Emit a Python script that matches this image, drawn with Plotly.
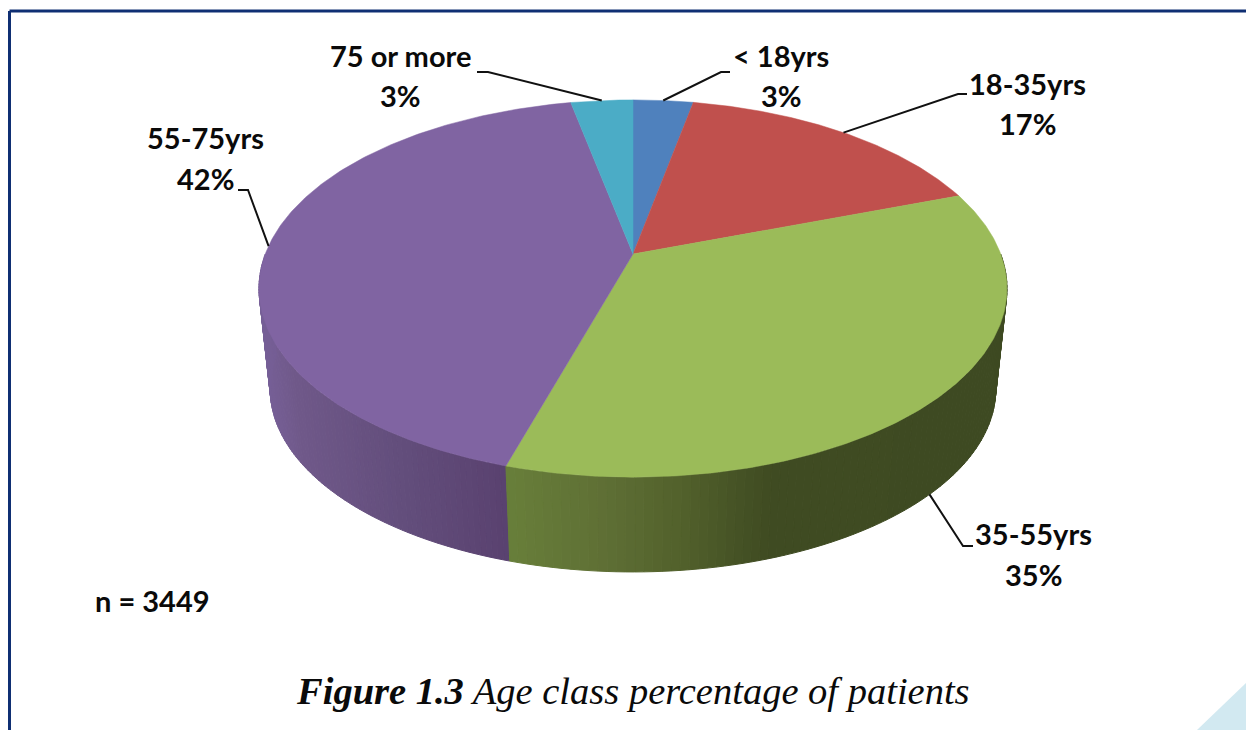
import numpy as np
import plotly.graph_objects as go

# --- data ---
categories = ["< 18yrs", "18-35yrs", "35-55yrs", "55-75yrs", "75 or more"]
percent_labels = [3, 17, 35, 42, 3]
slice_shares = [3.1, 16.4, 35.1, 42.2, 3.2]   # share of the circle as measured from the slice edges
sample_note = "n = 3449"
caption_bold = "Figure 1.3"
caption_rest = "Age class percentage of patients"

# --- styling ---
top_colors = ["#4f81bd", "#c0504d", "#9bbb59", "#8064a2", "#4bacc6"]
side_stops = {
    2: [(507, "#687f3a"), (600, "#5f7035"), (680, "#52612c"), (770, "#3f4b22"), (1010, "#3e4a22")],
    3: [(255, "#78619a"), (300, "#6f5889"), (400, "#634e7c"), (510, "#59416f")],
}
label_pos = [(781, 55, 95), (1027, 83, 123), (1033, 533, 574), (205, 137, 178), (400, 55, 95)]
# leader geometry: (elbow x, elbow y, end x), the start point comes from the slice's mid angle
leader_pos = [(721, 72, 730), (958, 94, 967), (963, 546, 973), (248, 190, 238), (488, 72, 477)]
LABEL_FONT = "Lato"
CX, CY_TOP, CY_BOT = 633.0, 254.0, 355.5
A, B, K, BOT_SCALE = 367.7, 182.3, 0.183, 0.97


def project(theta, bottom=False):
    w = 1 + K * np.cos(theta)
    dx, dy = A * np.sin(theta) / w, -B * np.cos(theta) / w
    if bottom:
        return CX + BOT_SCALE * dx, CY_BOT + BOT_SCALE * dy
    return CX + dx, CY_TOP + dy


def hex_rgb(h):
    return np.array([int(h[i:i + 2], 16) for i in (1, 3, 5)], dtype=float)


def side_color(idx, x):
    stops = side_stops[idx]
    xs = [s[0] for s in stops]
    cols = np.array([hex_rgb(s[1]) for s in stops])
    rgb = [np.interp(x, xs, cols[:, c]) for c in range(3)]
    return "rgb(%d,%d,%d)" % tuple(int(round(v)) for v in rgb)


cum = np.concatenate([[0], np.cumsum(slice_shares)]) / sum(slice_shares) * 2 * np.pi
fig = go.Figure()

# side wall (front half only is visible)
for i in (3, 2):
    a0, a1 = max(cum[i], np.pi / 2), min(cum[i + 1], 3 * np.pi / 2)
    edges = np.linspace(a0, a1, 90)
    for t0, t1 in zip(edges[:-1], edges[1:]):
        ts = np.linspace(t0, t1, 3)
        xt, yt = project(ts)
        xb, yb = project(ts, bottom=True)
        x = np.concatenate([xt, xb[::-1], xt[:1]])
        y = np.concatenate([yt, yb[::-1], yt[:1]])
        col = side_color(i, float(x.mean()))
        fig.add_trace(go.Scatter(x=x, y=y, mode="lines", fill="toself", fillcolor=col,
                                 line=dict(color=col, width=1), hoverinfo="skip", showlegend=False))

# top face
for i in range(len(categories)):
    ts = np.linspace(cum[i], cum[i + 1], 200)
    xr, yr = project(ts)
    x = np.concatenate([[CX], xr, [CX]])
    y = np.concatenate([[CY_TOP], yr, [CY_TOP]])
    fig.add_trace(go.Scatter(x=x, y=y, mode="lines", fill="toself", fillcolor=top_colors[i],
                             line=dict(color=top_colors[i], width=0.5), name=categories[i],
                             hoverinfo="skip", showlegend=False))

# leaders and labels
annotations = []
for i, cat in enumerate(categories):
    mid = (cum[i] + cum[i + 1]) / 2
    ax, ay = project(mid, bottom=(np.pi / 2 < mid < 3 * np.pi / 2) and i == 2)
    ex, ey, endx = leader_pos[i]
    fig.add_trace(go.Scatter(x=[ax, ex, endx], y=[ay, ey, ey], mode="lines",
                             line=dict(color="#111111", width=2), hoverinfo="skip", showlegend=False))
    lx, y1, y2 = label_pos[i]
    annotations.append(dict(x=lx, y=y1, text=f"<b>{cat}</b>", showarrow=False, xanchor="center", yanchor="middle",
                            font=dict(family=LABEL_FONT, size=29, color="#0a0a0a")))
    annotations.append(dict(x=lx, y=y2, text=f"<b>{percent_labels[i]}%</b>", showarrow=False, xanchor="center",
                            yanchor="middle", font=dict(family=LABEL_FONT, size=29, color="#0a0a0a")))

annotations.append(dict(x=93, y=600, text=f"<b>{sample_note}</b>", showarrow=False, xanchor="left", yanchor="middle",
                        font=dict(family=LABEL_FONT, size=29, color="#0a0a0a")))
annotations.append(dict(x=633, y=691,
                        text=f"<b><i>{caption_bold}</i></b><i> {caption_rest}</i>", showarrow=False,
                        xanchor="center", yanchor="middle",
                        font=dict(family="Liberation Serif", size=38.5, color="#0a0a0a")))

shapes = [
    dict(type="path", path="M 1197 730 L 1246 683 L 1246 730 Z", fillcolor="#d2e9f1", line=dict(width=0), layer="below"),
    dict(type="line", x0=9.5, x1=1246, y0=11, y1=11, line=dict(color="#0f2f73", width=3), layer="below"),
    dict(type="line", x0=9.5, x1=9.5, y0=11, y1=730, line=dict(color="#0f2f73", width=3), layer="below"),
]

fig.update_layout(
    width=1246, height=730, margin=dict(l=0, r=0, t=0, b=0),
    paper_bgcolor="white", plot_bgcolor="white", showlegend=False,
    xaxis=dict(range=[0, 1246], visible=False, fixedrange=True),
    yaxis=dict(range=[730, 0], visible=False, fixedrange=True),
    annotations=annotations, shapes=shapes,
)
fig.write_html("out.html", config={"displayModeBar": False},
               post_script="document.body.style.margin='0';document.documentElement.style.overflow='hidden';")
